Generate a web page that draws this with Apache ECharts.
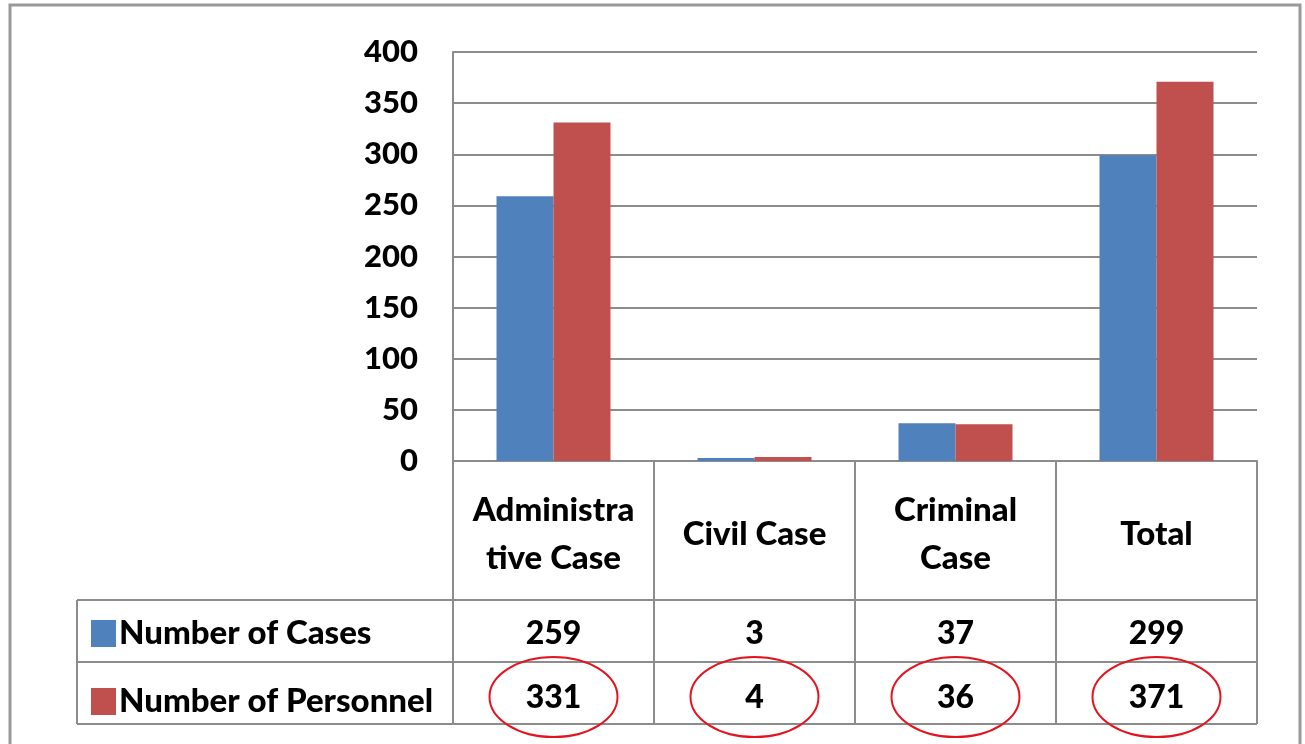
<!DOCTYPE html>
<html>
<head>
<meta charset="utf-8">
<script src="https://cdn.jsdelivr.net/npm/echarts@6/dist/echarts.min.js"></script>
<style>
  html,body{margin:0;padding:0;background:#fff;}
  #main{width:1305px;height:744px;}
</style>
</head>
<body>
<div id="main"></div>
<script>
  // data
  var categories = ['Administra\ntive Case', 'Civil Case', 'Criminal\nCase', 'Total'];
  var seriesNames = ['Number of Cases', 'Number of Personnel'];
  var cases = [259, 3, 37, 299];
  var personnel = [331, 4, 36, 371];
  var yTicks = [0, 50, 100, 150, 200, 250, 300, 350, 400];

  var gray = '#8c8c8c';
  var font = 'Lato, "Liberation Sans", sans-serif';
  var fw = 900;
  var gridL = 453, gridR = 1257, gridT = 52, gridB = 461;
  var tableL = 77, rowY = [600, 662, 724];

  var myChart = echarts.init(document.getElementById('main'));

  var option = {
    animation: false,
    backgroundColor: '#fff',
    color: ['#4f81bd', '#c0504d'],
    grid: {left: gridL, right: 1305 - gridR, top: gridT, bottom: 744 - gridB},
    legend: {
      orient: 'vertical',
      left: 91, top: 617, padding: 0,
      itemWidth: 25, itemHeight: 27, itemGap: 35,
      icon: 'rect',
      data: seriesNames,
      textStyle: {fontFamily: font, fontWeight: fw, fontSize: 33, color: '#000', padding: [0, 0, 5, -2]}
    },
    xAxis: {
      type: 'category',
      data: categories,
      axisLine: {lineStyle: {color: gray, width: 2}},
      axisTick: {show: true, interval: 0, length: rowY[2] - gridB, lineStyle: {color: gray, width: 2}},
      axisLabel: {
        interval: 0, hideOverlap: false,
        margin: 73, verticalAlign: 'middle', lineHeight: 48,
        fontFamily: font, fontWeight: fw, fontSize: 33, color: '#000'
      }
    },
    yAxis: {
      type: 'value',
      min: yTicks[0], max: yTicks[yTicks.length - 1], interval: yTicks[1] - yTicks[0],
      axisLine: {show: true, lineStyle: {color: gray, width: 2}},
      axisTick: {show: false},
      splitLine: {lineStyle: {color: gray, width: 2}},
      axisLabel: {margin: 35, fontFamily: font, fontWeight: fw, fontSize: 31, color: '#000'}
    },
    series: [
      {name: seriesNames[0], type: 'bar', data: cases, barWidth: 57, barGap: '0%'},
      {name: seriesNames[1], type: 'bar', data: personnel, barWidth: 57, barGap: '0%'}
    ]
  };
  myChart.setOption(option);

  // data table below the axis
  var g = [];
  g.push({type: 'rect', shape: {x: 10, y: 5, width: 1290, height: 760}, style: {fill: 'none', stroke: '#999', lineWidth: 3}, z: 0});
  rowY.forEach(function (y) {
    g.push({type: 'line', shape: {x1: tableL, y1: y, x2: gridR, y2: y}, style: {stroke: gray, lineWidth: 2}});
  });
  g.push({type: 'line', shape: {x1: tableL, y1: rowY[0], x2: tableL, y2: rowY[2]}, style: {stroke: gray, lineWidth: 2}});

  var rows = [cases, personnel];
  rows.forEach(function (vals, r) {
    vals.forEach(function (v, i) {
      var cx = myChart.convertToPixel({xAxisIndex: 0}, i);
      var cy = (rowY[r] + rowY[r + 1]) / 2 + 3 + r * 2;
      g.push({
        type: 'text', x: cx, y: cy,
        style: {text: String(v), fontFamily: font, fontWeight: fw, fontSize: 32, fill: '#000', align: 'center', verticalAlign: 'middle'}
      });
      if (r == 1) {
        g.push({type: 'ellipse', shape: {cx: cx, cy: 697, rx: 64, ry: 40}, style: {fill: 'none', stroke: '#e3141d', lineWidth: 2}});
      }
    });
  });
  myChart.setOption({graphic: g});
</script>
</body>
</html>
